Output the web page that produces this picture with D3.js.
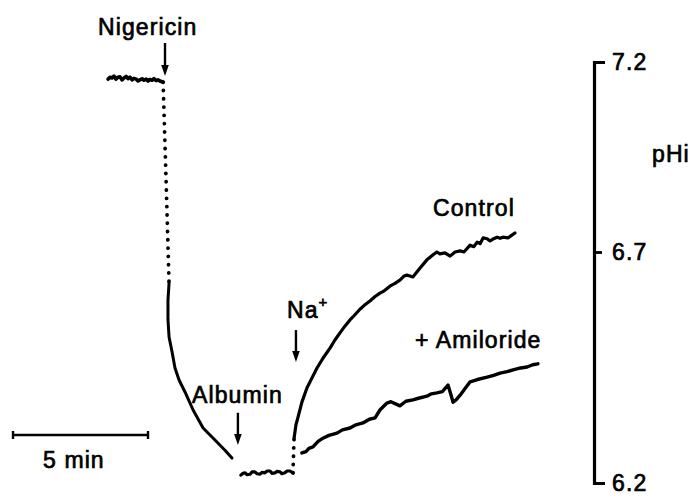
<!DOCTYPE html>
<html><head><meta charset="utf-8">
<script src="https://cdn.jsdelivr.net/npm/d3@7"></script>
<style>
body{margin:0;background:#fff}
text{font-family:"Liberation Sans",Arial,Helvetica,sans-serif;font-size:23px;letter-spacing:1.1px;fill:#000;stroke:#000;stroke-width:0.7px}
</style>
</head><body><svg id="c" width="691" height="498"></svg>
<script>
// time (min), pHi
const preNigericin = [[3.52,7.155],[3.60,7.160],[3.67,7.158],[3.74,7.163],[3.81,7.155],[3.89,7.160],[3.96,7.161],[4.04,7.153],[4.11,7.158],[4.19,7.162],[4.26,7.156],[4.33,7.160],[4.41,7.153],[4.48,7.157],[4.56,7.155],[4.63,7.150],[4.70,7.153],[4.78,7.156],[4.85,7.152],[4.93,7.155],[5.00,7.150],[5.07,7.154],[5.15,7.152],[5.22,7.156],[5.30,7.151],[5.37,7.153],[5.44,7.150],[5.52,7.148],[5.56,7.147]];
const nigericinGap = [[5.56,7.147],[5.67,6.889],[5.78,6.633]];
const nigericinFall = [[5.78,6.633],[5.74,6.596],[5.74,6.553],[5.78,6.516],[5.89,6.484],[6.00,6.449],[6.15,6.423],[6.37,6.397],[6.67,6.358],[7.04,6.319],[7.48,6.293],[7.85,6.271],[8.11,6.254]];
const afterAlbumin = [[8.44,6.217],[8.52,6.221],[8.59,6.222],[8.67,6.218],[8.78,6.219],[8.85,6.224],[8.96,6.224],[9.04,6.220],[9.15,6.219],[9.22,6.223],[9.33,6.222],[9.41,6.226],[9.52,6.226],[9.59,6.221],[9.70,6.222],[9.78,6.225],[9.89,6.224],[9.96,6.220],[10.07,6.222],[10.15,6.226],[10.26,6.226],[10.37,6.222]];
const sodiumGap = [[10.37,6.222],[10.41,6.297]];
const control = [[10.41,6.297],[10.48,6.326],[10.56,6.343],[10.70,6.375],[10.89,6.406],[11.07,6.427],[11.26,6.449],[11.48,6.470],[11.74,6.492],[11.93,6.510],[12.11,6.525],[12.30,6.540],[12.48,6.553],[12.63,6.562],[12.85,6.576],[13.00,6.584],[13.22,6.594],[13.40,6.603],[13.59,6.611],[13.75,6.616],[13.96,6.626],[14.15,6.632],[14.33,6.639],[14.48,6.648],[14.59,6.650],[14.70,6.648],[14.81,6.646],[15.07,6.665],[15.33,6.683],[15.56,6.694],[15.70,6.700],[15.81,6.696],[16.00,6.698],[16.19,6.691],[16.37,6.700],[16.56,6.703],[16.70,6.700],[16.93,6.718],[17.07,6.714],[17.19,6.726],[17.30,6.722],[17.41,6.737],[17.56,6.735],[17.67,6.729],[17.80,6.735],[17.93,6.739],[18.04,6.736],[18.15,6.739],[18.33,6.737],[18.45,6.743],[18.59,6.750]];
const amiloride = [[10.70,6.265],[10.85,6.268],[10.96,6.275],[11.11,6.278],[11.30,6.290],[11.48,6.297],[11.70,6.303],[12.00,6.308],[12.20,6.315],[12.48,6.319],[12.70,6.326],[12.96,6.330],[13.20,6.338],[13.41,6.341],[13.59,6.358],[13.85,6.373],[14.00,6.376],[14.33,6.367],[14.55,6.377],[14.81,6.380],[15.05,6.384],[15.33,6.388],[15.50,6.393],[15.70,6.395],[15.90,6.398],[16.11,6.412],[16.19,6.397],[16.30,6.375],[16.41,6.380],[16.56,6.390],[16.75,6.405],[16.93,6.419],[17.20,6.424],[17.56,6.429],[17.80,6.433],[18.04,6.438],[18.30,6.441],[18.52,6.445],[18.80,6.449],[19.04,6.451],[19.25,6.456],[19.44,6.458]];
const tickValues = [6.2, 6.7, 7.2];
const tickLabels = ["6.2", "6.7", "7.2"];
// arrows: time, top pH, bottom pH
const arrows = [
  {t:5.63, top:7.25, bottom:7.163},
  {t:8.33, top:6.352, bottom:6.282},
  {t:10.48, top:6.531, bottom:6.462}
];
const labels = [
  {text:"Nigericin", x:98, y:35},
  {text:"Albumin", x:192, y:403},
  {text:"Control", x:433, y:216},
  {text:"+ Amiloride", x:415, y:348},
  {text:"5 min", x:43, y:468},
  {text:"pHi", x:652, y:162}
];
const scaleBarMinutes = [0, 5];

const svg = d3.select("#c");
const x = d3.scaleLinear().domain([0,25]).range([13,688]);
const y = d3.scaleLinear().domain([6.2,6.7,7.2]).range([483,252,62]);
const line = d3.line().x(d=>x(d[0])).y(d=>y(d[1]));

function solid(data, w){
  svg.append("path").attr("d", line(data)).attr("fill","none").attr("stroke","#000")
    .attr("stroke-width", w).attr("stroke-linejoin","round").attr("stroke-linecap","round");
}
function dotted(data){
  svg.append("path").attr("d", line(data)).attr("fill","none").attr("stroke","#000")
    .attr("stroke-width",3.8).attr("stroke-linecap","round").attr("stroke-dasharray","0.1 8.2");
}
solid(preNigericin, 3.6);
dotted(nigericinGap);
solid(nigericinFall, 3);
solid(afterAlbumin, 3.2);
dotted(sodiumGap);
solid(control, 3.2);
solid(amiloride, 3.4);

// axis
const axis = d3.axisRight(y).tickValues(tickValues).tickFormat((d,i)=>tickLabels[i])
  .tickSizeInner(8).tickSizeOuter(11).tickPadding(10);
const ag = svg.append("g").attr("transform","translate(594,0)").call(axis);
ag.select(".domain").attr("stroke-width",3.2).attr("stroke","#000");
ag.selectAll(".tick line").attr("stroke-width",2.8).attr("stroke","#000");
ag.selectAll(".tick text").attr("font-family",null).attr("font-size",null)
  .style("font-size","23px");

// arrows
arrows.forEach(a=>{
  const ax = x(a.t), y1 = y(a.top), y2 = y(a.bottom);
  svg.append("line").attr("x1",ax).attr("x2",ax).attr("y1",y1).attr("y2",y2-8)
    .attr("stroke","#000").attr("stroke-width",2.4);
  svg.append("path").attr("d",`M${ax-3.8},${y2-11}L${ax+3.8},${y2-11}L${ax},${y2}Z`).attr("fill","#000");
});

// scale bar
const sb0 = x(scaleBarMinutes[0]), sb1 = x(scaleBarMinutes[1]);
svg.append("path").attr("d",`M${sb0},435H${sb1}M${sb0},431V439M${sb1},431V439`)
  .attr("stroke","#000").attr("stroke-width",2.4).attr("fill","none");

// labels
labels.forEach(l=>{
  svg.append("text").attr("x",l.x).attr("y",l.y).text(l.text);
});
svg.append("text").attr("x",287).attr("y",318).text("Na")
  .append("tspan").attr("dy",-11).style("font-size","15px").text("+");
</script>
</body></html>
